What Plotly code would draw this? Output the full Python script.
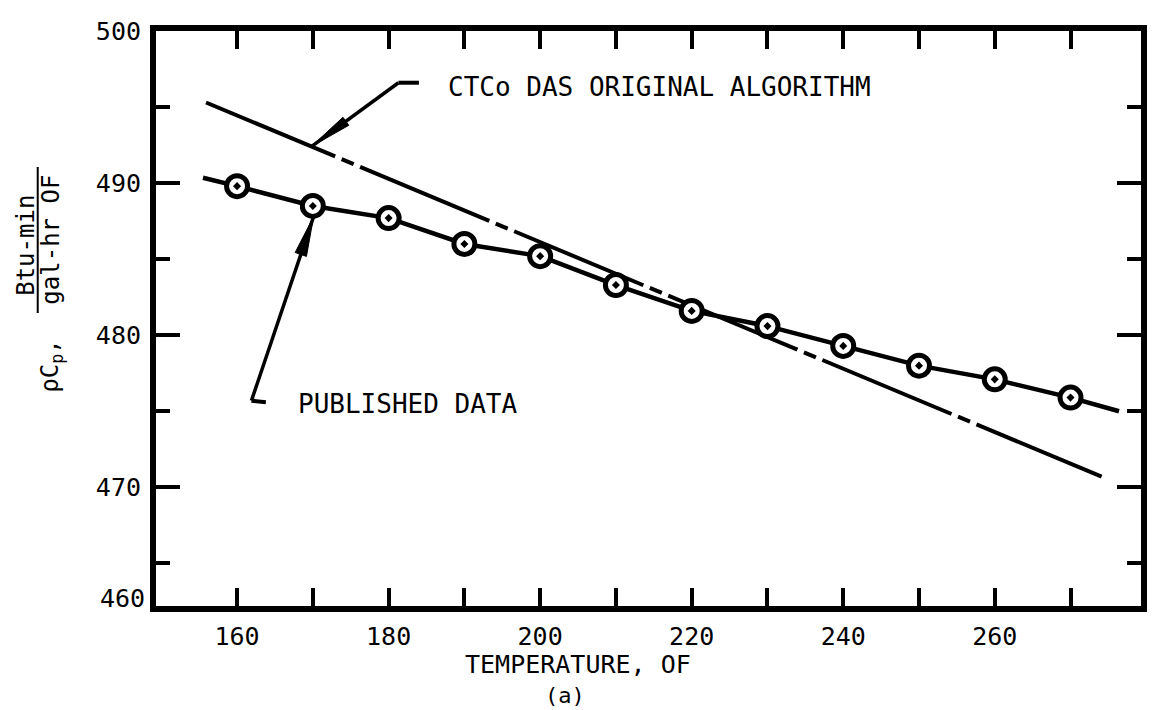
import math
import plotly.graph_objects as go

# ---------------- data ----------------
temps = [160, 170, 180, 190, 200, 210, 220, 230, 240, 250, 260, 270]
published = [489.8, 488.5, 487.7, 486.0, 485.2, 483.3, 481.6, 480.6, 479.3, 478.0, 477.1, 475.9]
# faired line through the published points (drawn a little past the end points)
pub_line_x = [155.5] + temps + [276.4]
pub_line_y = [490.35] + published + [475.0]
# CTCo DAS original algorithm (straight line)
ctco_x = [155.9, 274.1]
ctco_y = [495.3, 470.7]

x_tick_vals = [160, 180, 200, 220, 240, 260]
x_tick_text = ["160", "180", "200", "220", "240", "260"]
x_minor_vals = [170, 190, 210, 230, 250, 270]
y_tick_vals = [470, 480, 490, 500]
y_tick_text = ["470", "480", "490", "500"]
y_minor_vals = [465, 475, 485, 495]

# ---------------- layout geometry ----------------
W, H = 1152, 710
ML, MR, MT, MB = 156, 5, 31, 104
X_RANGE = [149.3, 279.3]
Y_RANGE = [462.2, 500.0]
PW, PH = W - ML - MR, H - MT - MB
SX = PW / (X_RANGE[1] - X_RANGE[0])   # px per degF
SY = PH / (Y_RANGE[1] - Y_RANGE[0])   # px per unit

FONT = "DejaVu Sans Mono"
BLACK = "#000000"


def px_to_paper(px, py):
    return (px - ML) / PW, (H - MB - py) / PH


def wedge(tail, tip, length_px, width_px):
    """narrow filled arrow head (in data coords) pointing from tail to tip"""
    dxp = (tip[0] - tail[0]) * SX
    dyp = (tip[1] - tail[1]) * SY
    n = math.hypot(dxp, dyp)
    ux, uy = dxp / n, dyp / n
    px_, py_ = -uy, ux
    bx = tip[0] - ux * length_px / SX
    by = tip[1] - uy * length_px / SY
    c1 = (bx + px_ * width_px / 2 / SX, by + py_ * width_px / 2 / SY)
    c2 = (bx - px_ * width_px / 2 / SX, by - py_ * width_px / 2 / SY)
    return f"M{tip[0]},{tip[1]} L{c1[0]},{c1[1]} L{c2[0]},{c2[1]} Z"


fig = go.Figure()

fig.add_trace(go.Scatter(
    x=ctco_x, y=ctco_y, mode="lines",
    line=dict(color=BLACK, width=4, dash="140px,7px,13px,7px"),
    hoverinfo="skip", showlegend=False))

fig.add_trace(go.Scatter(
    x=pub_line_x, y=pub_line_y, mode="lines",
    line=dict(color=BLACK, width=4.5),
    hoverinfo="skip", showlegend=False))

fig.add_trace(go.Scatter(
    x=temps, y=published, mode="markers",
    marker=dict(symbol="circle-dot", size=21, color="white",
                line=dict(color=BLACK, width=5)),
    showlegend=False))

# ---------------- leaders / arrows ----------------
ctco_tail = (181.3, 496.6)
ctco_tip = (169.8, 492.4)
pub_tail = (161.9, 475.7)
pub_tip = (170.1, 487.8)

shapes = []
for tail, tip, stub_end, hl, hw in [
    (ctco_tail, ctco_tip, (184.0, 496.6), 43, 10),
    (pub_tail, pub_tip, (163.8, 475.6), 40, 12),
]:
    shapes.append(dict(type="line", xref="x", yref="y",
                       x0=tail[0], y0=tail[1], x1=tip[0], y1=tip[1],
                       line=dict(color=BLACK, width=3.5)))
    shapes.append(dict(type="line", xref="x", yref="y",
                       x0=tail[0], y0=tail[1], x1=stub_end[0], y1=stub_end[1],
                       line=dict(color=BLACK, width=4)))
    shapes.append(dict(type="path", xref="x", yref="y",
                       path=wedge(tail, tip, hl, hw),
                       fillcolor=BLACK, line=dict(color=BLACK, width=1)))

# y-title fraction bar
bx0, by0 = px_to_paper(37, 167)
bx1, by1 = px_to_paper(37, 313)
shapes.append(dict(type="line", xref="paper", yref="paper",
                   x0=bx0, y0=by0, x1=bx1, y1=by1,
                   line=dict(color=BLACK, width=2)))

annotations = []
annotations.append(dict(x=187.6, y=496.3, xref="x", yref="y",
                        text="CTCo DAS ORIGINAL ALGORITHM", showarrow=False,
                        xanchor="left", yanchor="middle",
                        font=dict(family=FONT, size=26, color=BLACK)))
annotations.append(dict(x=167.8, y=475.5, xref="x", yref="y",
                        text="PUBLISHED DATA", showarrow=False,
                        xanchor="left", yanchor="middle",
                        font=dict(family=FONT, size=26, color=BLACK)))

def paper_text(text, px, py, size=26, angle=0, xanchor="center", yanchor="middle"):
    x, y = px_to_paper(px, py)
    annotations.append(dict(x=x, y=y, xref="paper", yref="paper", text=text,
                            showarrow=False, textangle=angle,
                            xanchor=xanchor, yanchor=yanchor, borderpad=0,
                            font=dict(family=FONT, size=size, color=BLACK)))

paper_text("TEMPERATURE, OF", 581, 664, size=25)
paper_text("(a)", 567, 695, size=22)
paper_text("460", 146, 598, size=25, xanchor="right")
# y-axis title: rho Cp, Btu-min / gal-hr OF
paper_text("\u03c1C<sub>p</sub>,", 50, 366, size=24, angle=-90)
paper_text("Btu-min", 25, 245, size=24, angle=-90)
paper_text("gal-hr OF", 50, 240, size=24, angle=-90)

fig.update_layout(
    width=W, height=H,
    margin=dict(l=ML, r=MR, t=MT, b=MB, pad=0),
    paper_bgcolor="white", plot_bgcolor="white",
    showlegend=False,
    shapes=shapes, annotations=annotations,
    font=dict(family=FONT, color=BLACK),
    xaxis=dict(range=X_RANGE, showgrid=False, zeroline=False,
               showline=True, linecolor=BLACK, linewidth=6, mirror="ticks",
               ticks="inside", ticklen=18, tickwidth=4, tickcolor=BLACK,
               tickvals=x_tick_vals, ticktext=x_tick_text,
               tickfont=dict(family=FONT, size=25, color=BLACK),
               ticklabelstandoff=3,
               minor=dict(tickvals=x_minor_vals, ticks="inside", ticklen=18,
                          tickwidth=4, tickcolor=BLACK, showgrid=False)),
    yaxis=dict(range=Y_RANGE, showgrid=False, zeroline=False,
               showline=True, linecolor=BLACK, linewidth=6, mirror="ticks",
               ticks="inside", ticklen=24, tickwidth=4, tickcolor=BLACK,
               tickvals=y_tick_vals, ticktext=y_tick_text,
               tickfont=dict(family=FONT, size=25, color=BLACK),
               ticklabelstandoff=4,
               minor=dict(tickvals=y_minor_vals, ticks="inside", ticklen=14,
                          tickwidth=4, tickcolor=BLACK, showgrid=False)),
)

fig.write_html("out.html")
